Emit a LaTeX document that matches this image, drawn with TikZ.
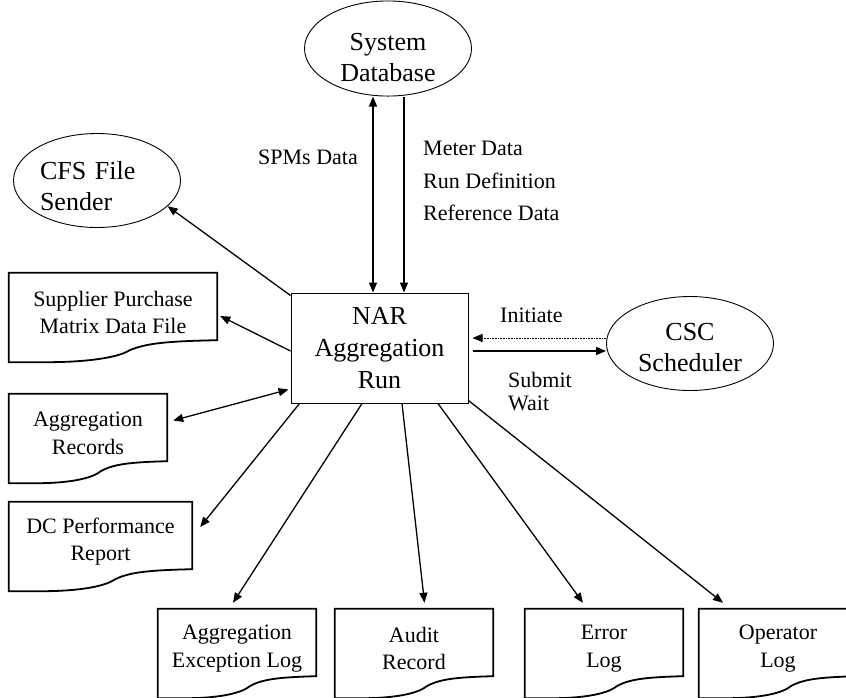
\documentclass[tikz,border=0pt]{standalone}
\usepackage{fontspec}
\setmainfont{Liberation Serif}
\usetikzlibrary{shapes.geometric,arrows.meta,calc}

\newcommand{\bigtxt}{\fontsize{26}{31}\selectfont}
\newcommand{\labtxt}{\fontsize{22}{32.5}\selectfont}
\newcommand{\doctxt}{\fontsize{22}{27.5}\selectfont}

\newcommand{\docoutline}[1]{%
\draw[line width=1.8pt] ($(#1.south west)+(0pt,-10pt)$) -- (#1.north west) -- (#1.north east) -- ($(#1.south east)+(0pt,12pt)$)
 .. controls ($(#1.south west)!0.76!(#1.south east)+(0pt,11pt)$) and ($(#1.south west)!0.66!(#1.south east)+(0pt,9pt)$) .. ($(#1.south west)!0.58!(#1.south east)+(0pt,2pt)$)
 .. controls ($(#1.south west)!0.52!(#1.south east)+(0pt,-6pt)$) and ($(#1.south west)!0.36!(#1.south east)+(0pt,-10pt)$) .. ($(#1.south west)!0.18!(#1.south east)+(0pt,-10pt)$)
 -- cycle;}

\begin{document}
\begin{tikzpicture}[x=1pt,y=-1pt,
 arr/.style={line width=1.3pt,-{Triangle[length=10pt,width=8pt]}},
 dblarr/.style={line width=1.3pt,{Triangle[length=10pt,width=8pt]}-{Triangle[length=10pt,width=8pt]}},
 oval/.style={ellipse,draw,line width=0.9pt,minimum width=167pt,minimum height=94pt,inner sep=0pt,align=center,font=\bigtxt},
 docbox/.style={rectangle,minimum height=79pt,inner sep=0pt,align=center,font=\doctxt},
 lab/.style={inner sep=0pt,font=\labtxt}]
\useasboundingbox (0,0) rectangle (846,697);

\node[oval] (db) at (388,48.5) {\rule{0pt}{36pt}System\\Database};
\node[oval,align=left,text width=114pt] (cfs) at (97,180.5) {\rule{0pt}{28.5pt}CFS File\\ Sender};
\node[oval] (csc) at (690,343.5) {\rule{0pt}{24.5pt}CSC\\Scheduler};
\node[rectangle,draw,line width=1pt,minimum width=177pt,minimum height=110pt,align=center,font=\fontsize{26}{32}\selectfont] (nar) at (379.5,348) {NAR\\Aggregation\\Run};

\node[docbox,minimum width=208pt] (suppl) at (113,312.5) {Supplier Purchase\\Matrix Data File};
\node[docbox,minimum width=158pt] (aggrec) at (88,433.5) {Aggregation\\Records};
\node[docbox,minimum width=183pt] (dcrep) at (100.5,541.5) {DC Performance\\Report};
\node[docbox,minimum width=158pt] (aggexc) at (237,648.5) {Aggregation\\Exception Log};
\node[docbox,minimum width=158pt] (audit) at (414,648.5) {Audit\\Record};
\node[docbox,minimum width=158pt] (errlog) at (604,648.5) {Error\\Log};
\node[docbox,minimum width=158pt] (oplog) at (778,648.5) {Operator\\Log};
\docoutline{suppl}
\docoutline{aggrec}
\docoutline{dcrep}
\docoutline{aggexc}
\docoutline{audit}
\docoutline{errlog}
\docoutline{oplog}

\node[lab,anchor=east] (spms) at (358,157) {SPMs Data};
\node[lab,anchor=west,align=left] (meter) at (423,181) {Meter Data\\Run Definition\\Reference Data};
\node[lab,anchor=west] (init) at (500,315) {Initiate};
\node[lab,anchor=west,align=left,font=\fontsize{22}{23}\selectfont] (subm) at (508,392) {Submit\\Wait};

\draw[dblarr] ([xshift=-6.5pt]nar.north) -- ($(nar.north |- db.south)+(-6.5pt,0pt)$);
\draw[arr] ($(nar.north |- db.south)+(24.5pt,0pt)$) -- ([xshift=24.5pt]nar.north);
\draw[arr] ([yshift=-3pt]nar.north west) -- (cfs.-20);
\draw[arr] ([yshift=-3pt]nar.west) -- ([xshift=3pt,yshift=-3.5pt]suppl.east);
\draw[dblarr] ([shift={(-2pt,14pt)}]nar.south west) -- ([shift={(6pt,13pt)}]aggrec.east);
\draw[arr] ([xshift=9pt]nar.south west) -- ([shift={(8pt,14.5pt)}]dcrep.east);
\draw[arr] ([xshift=-17.5pt]nar.south) -- ([shift={(-4pt,6pt)}]aggexc.north);
\draw[arr] ([xshift=22.5pt]nar.south) -- ([shift={(10.5pt,6pt)}]audit.north);
\draw[arr] ([xshift=58.5pt]nar.south) -- ([shift={(-21pt,6pt)}]errlog.north);
\draw[arr] ([yshift=3pt]nar.south east) -- ([shift={(-55pt,6pt)}]oplog.north);
\draw[line width=0.8pt,dash pattern=on 0.8pt off 0.8pt,-{Triangle[length=10pt,width=8pt]}] ([yshift=5.5pt]csc.west) -- ([shift={(4pt,10pt)}]nar.east);
\draw[arr] ([shift={(4pt,-3pt)}]nar.east) -- ([yshift=-7.5pt]csc.west);
\end{tikzpicture}
\end{document}
